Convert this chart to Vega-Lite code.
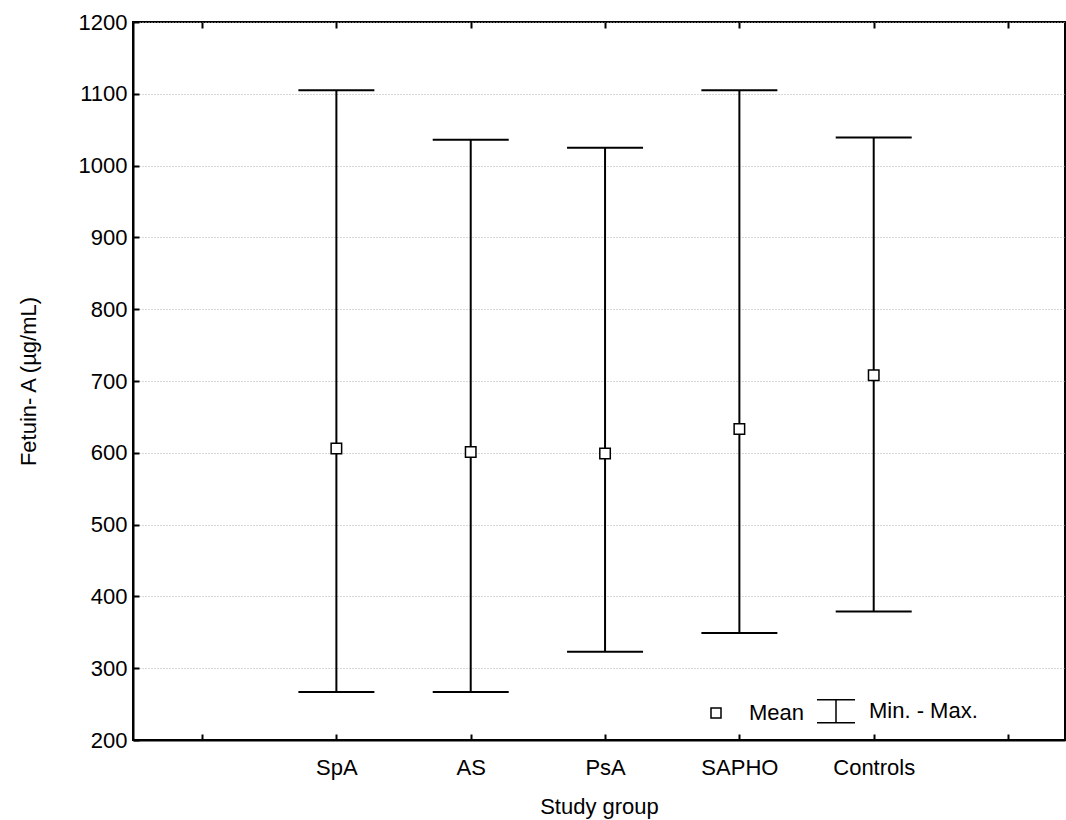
{
  "$schema": "https://vega.github.io/schema/vega-lite/v6.json",
  "autosize": "none",
  "padding": {"left": 133, "top": 22, "right": 1, "bottom": 80},
  "width": 932,
  "height": 718,
  "background": "white",
  "config": {
    "view": {"stroke": "black", "strokeWidth": 2},
    "font": "Liberation Sans",
    "axis": {
      "labelFont": "Liberation Sans",
      "titleFont": "Liberation Sans",
      "labelFontSize": 22,
      "titleFontSize": 22,
      "titleFontWeight": "normal",
      "labelColor": "black",
      "titleColor": "black",
      "domainColor": "black",
      "tickColor": "black",
      "domainWidth": 2,
      "tickWidth": 2
    }
  },
  "data": {
    "values": [
      {"group": "SpA", "series": "Mean", "mean": 606, "min": 267, "max": 1105},
      {"group": "AS", "series": "Mean", "mean": 601, "min": 267, "max": 1036},
      {"group": "PsA", "series": "Mean", "mean": 599, "min": 323, "max": 1025},
      {"group": "SAPHO", "series": "Mean", "mean": 633, "min": 349, "max": 1105},
      {"group": "Controls", "series": "Mean", "mean": 708, "min": 379, "max": 1039}
    ]
  },
  "resolve": {"scale": {"x": "independent"}, "axis": {"x": "independent"}},
  "layer": [
    {
      "encoding": {
        "x": {
          "field": "group",
          "type": "ordinal",
          "scale": {"type": "point", "domain": [" ", "SpA", "AS", "PsA", "SAPHO", "Controls", "  "], "padding": 0.469, "align": 0.548},
          "axis": {"orient": "bottom", "title": "Study group", "labelAngle": 0, "tickSize": -6, "labelPadding": 23, "titlePadding": 18, "grid": false}
        }
      },
      "layer": [
        {
          "mark": {"type": "rule", "color": "black", "strokeWidth": 2},
          "encoding": {
            "y": {
              "field": "min",
              "type": "quantitative",
              "scale": {"domain": [200, 1200], "nice": false, "zero": false},
              "axis": {"title": "Fetuin- A  (µg/mL)", "format": "d", "values": [200,300,400,500,600,700,800,900,1000,1100,1200], "tickSize": -6, "labelPadding": 12, "titlePadding": 38, "grid": true, "gridColor": "#b0b0b0", "gridDash": [1, 2], "gridWidth": 1}
            },
            "y2": {"field": "max"}
          }
        },
        {
          "mark": {"type": "tick", "color": "black", "opacity": 1, "thickness": 2, "size": 76, "orient": "horizontal"},
          "encoding": {"y": {"field": "min", "type": "quantitative"}}
        },
        {
          "mark": {"type": "tick", "color": "black", "opacity": 1, "thickness": 2, "size": 76, "orient": "horizontal"},
          "encoding": {"y": {"field": "max", "type": "quantitative"}}
        }
      ]
    },
    {
      "mark": {"type": "point", "fill": "white", "fillOpacity": 1, "stroke": "black", "strokeWidth": 1.5, "opacity": 1, "size": 110},
      "encoding": {
        "x": {
          "field": "group",
          "type": "ordinal",
          "scale": {"type": "point", "domain": [" ", "SpA", "AS", "PsA", "SAPHO", "Controls", "  "], "padding": 0.469, "align": 0.548},
          "axis": {"orient": "top", "title": null, "labels": false, "tickSize": -6, "grid": false, "domain": false}
        },
        "y": {"field": "mean", "type": "quantitative"},
        "shape": {
          "field": "series",
          "type": "nominal",
          "scale": {"domain": ["Mean", "Min. - Max."], "range": ["square", "M-3.8,-2.3L3.8,-2.3M0,-2.3L0,2.3M-3.8,2.3L3.8,2.3"]},
          "legend": {
            "title": null,
            "orient": "none",
            "legendX": 572,
            "legendY": 678,
            "direction": "horizontal",
            "symbolSize": 100,
            "labelFont": "Liberation Sans",
            "labelFontSize": 22,
            "labelColor": "black",
            "labelOffset": 22,
            "columnPadding": 9,
            "encode": {
              "symbols": {
                "fill": {"value": "white"},
                "stroke": {"value": "black"},
                "strokeWidth": {"value": 1.5},
                "opacity": {"value": 1},
                "fillOpacity": {"value": 1},
                "strokeOpacity": {"value": 1},
                "size": {"value": 100}
              }
            }
          }
        }
      }
    }
  ]
}
